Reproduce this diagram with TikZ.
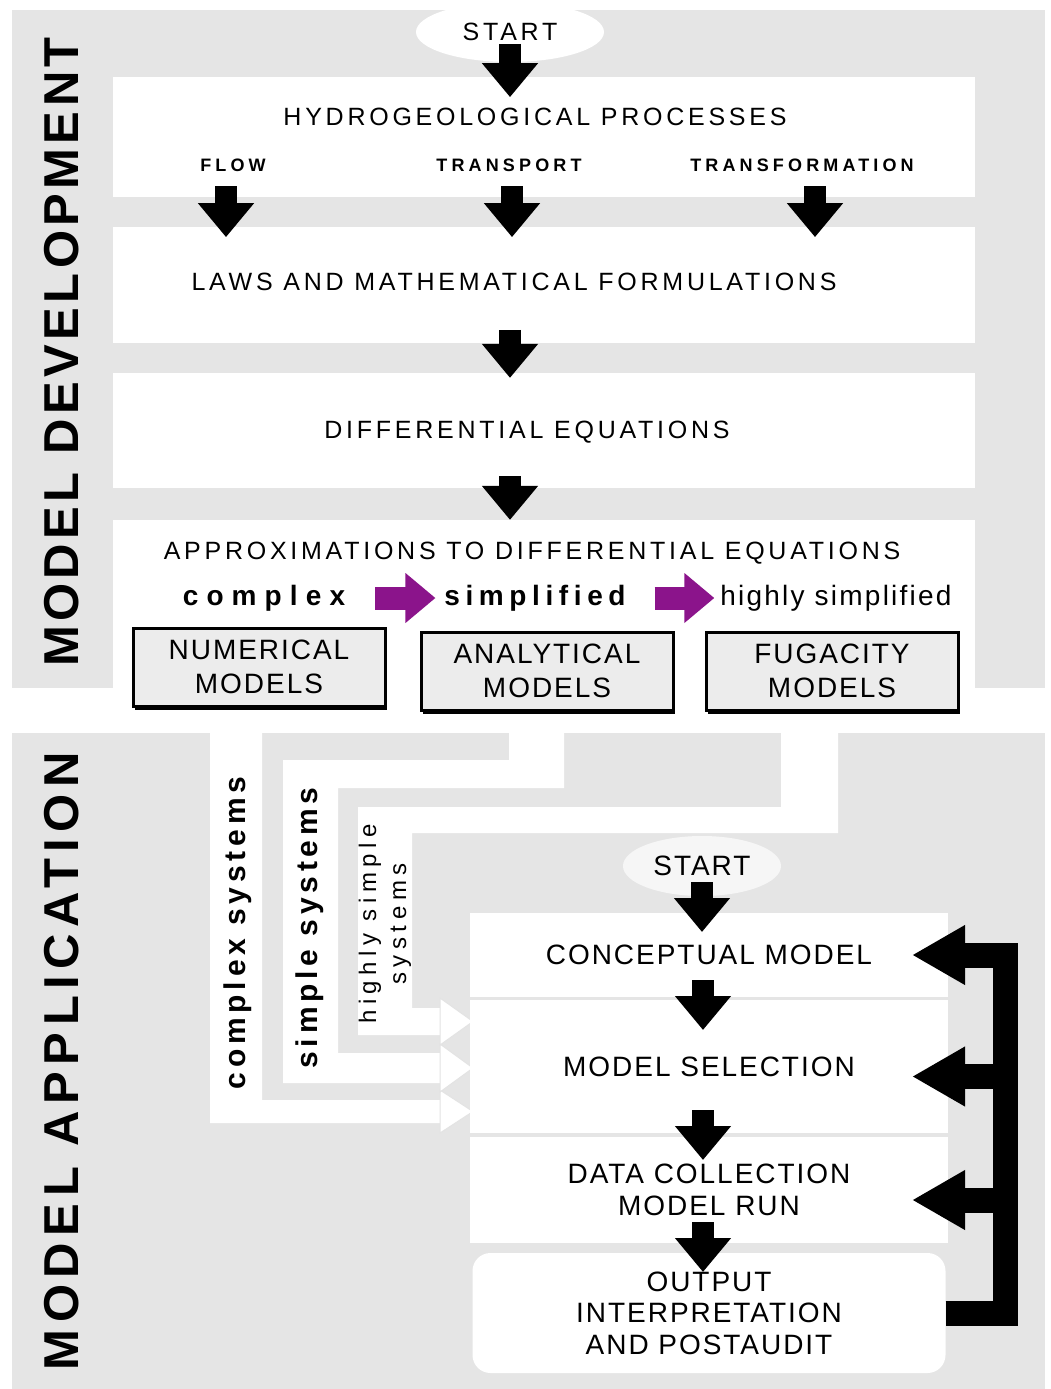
\documentclass[tikz,border=0pt]{standalone}
\usepackage{fontspec}
\setmainfont{Liberation Sans}
\usetikzlibrary{shapes.geometric, positioning, arrows.meta, shadows}

\definecolor{panelgrey}{RGB}{229,229,229}
\definecolor{boxgrey}{RGB}{236,236,236}
\definecolor{startgrey}{RGB}{246,246,246}
\definecolor{simpurple}{RGB}{139,20,139}

\newcommand{\topfont}{\fontsize{25}{30}\selectfont\addfontfeature{LetterSpace=15}}
\newcommand{\tagfont}{\fontsize{18}{20}\selectfont\bfseries\addfontfeature{LetterSpace=23}}
\newcommand{\boxfont}{\fontsize{28}{34}\selectfont\addfontfeature{LetterSpace=7}}
\newcommand{\flowfont}{\fontsize{28}{31.5}\selectfont\addfontfeature{LetterSpace=7}}
\newcommand{\titlefont}{\fontsize{49}{50}\selectfont\bfseries\addfontfeature{LetterSpace=9}}
\newcommand{\sysfont}{\fontsize{30}{32}\selectfont\bfseries\addfontfeature{LetterSpace=16}}
\newcommand{\hsysfont}{\fontsize{24}{30}\selectfont\addfontfeature{LetterSpace=23}}

\begin{document}
\begin{tikzpicture}[x=1pt, y=-1pt, inner sep=0pt, outer sep=0pt]
    % Define styles
    \tikzstyle{panel} = [fill=panelgrey]
    \tikzstyle{band} = [fill=white]
    \tikzstyle{channel} = [fill=white]
    \tikzstyle{channelhead} = [fill=white, draw=gray!22, line width=1pt]
    \tikzstyle{startnode} = [ellipse, minimum width=188pt, minimum height=60pt, font=\topfont]
    \tikzstyle{model} = [rectangle, draw, line width=3pt, fill=boxgrey, minimum width=252pt, minimum height=78pt, align=center, font=\boxfont, drop shadow={shadow xshift=2pt, shadow yshift=-4pt, fill=black, opacity=1}]
    \tikzstyle{flowband} = [rectangle, fill=white, minimum width=478pt, align=center, font=\flowfont]
    \tikzstyle{sidetitle} = [rotate=90, font=\titlefont]
    \tikzstyle{blockarrow} = [line width=22pt, -{Triangle[length=34pt, width=54pt]}]
    \tikzstyle{purplearrow} = [line width=23pt, simpurple, -{Triangle[length=30pt, width=48pt]}]
    \tikzstyle{feedback} = [line width=25pt, -{Triangle[length=53pt, width=56pt]}]

    \useasboundingbox (0,0) rectangle (1051,1389);

    % Panels and bands
    \fill[panel] (12,10) rectangle (1045,688);
    \fill[panel] (12,733) rectangle (1045,1389);
    \fill[band] (113,77) rectangle (975,197);
    \fill[band] (113,227) rectangle (975,343);
    \fill[band] (113,373) rectangle (975,488);
    \fill[band] (113,520) rectangle (975,688);

    % Channels from the models down to the application
    \fill[channel] (210,730) -- (262,730) -- (262,1100) -- (445,1100) -- (445,1123) -- (210,1123) -- cycle;
    \fill[channel] (509,730) -- (564,730) -- (564,788) -- (338,788) -- (338,1053) -- (445,1053) -- (445,1083) -- (283,1083) -- (283,760) -- (509,760) -- cycle;
    \fill[channel] (781,730) -- (838,730) -- (838,833) -- (412,833) -- (412,1008) -- (445,1008) -- (445,1035) -- (358,1035) -- (358,807) -- (781,807) -- cycle;
    \filldraw[channelhead] (440,1090) -- (473,1111.5) -- (440,1133) -- cycle;
    \filldraw[channelhead] (440,1044) -- (473,1068) -- (440,1092) -- cycle;
    \filldraw[channelhead] (440,998) -- (473,1021.5) -- (440,1045) -- cycle;

    % Nodes: model development
    \node[sidetitle] (mdev) at (62,352) {MODEL DEVELOPMENT};
    \node[startnode, fill=white] (topstart) at (510,32) {START};
    \node[font=\topfont] (hydro) at (535,117) {HYDROGEOLOGICAL PROCESSES};
    \node[font=\tagfont] (flow) at (233,165) {FLOW};
    \node[font=\tagfont] (transp) at (509,165) {TRANSPORT};
    \node[font=\tagfont] (transf) at (802,165) {TRANSFORMATION};
    \node[font=\topfont] (laws) at (514,282) {LAWS AND MATHEMATICAL FORMULATIONS};
    \node[font=\topfont] (diffeq) at (527,432) {DIFFERENTIAL EQUATIONS};
    \node[font=\topfont] (approx) at (532,553) {APPROXIMATIONS TO DIFFERENTIAL EQUATIONS};
    \node[font={\fontsize{28}{30}\selectfont\bfseries\addfontfeature{LetterSpace=29}}] (cplx) at (264,598) {complex};
    \node[font={\fontsize{28}{30}\selectfont\bfseries\addfontfeature{LetterSpace=20}}] (simp) at (535,598) {simplified};
    \node[font={\fontsize{28}{30}\selectfont\addfontfeature{LetterSpace=8}}] (hsimp) at (836,598) {highly simplified};
    \node[model] (num) at (259,667) {NUMERICAL\\MODELS};
    \node[model] (ana) at (547,671) {ANALYTICAL\\MODELS};
    \node[model] (fug) at (832,671) {FUGACITY\\MODELS};

    % Nodes: model application
    \node[sidetitle, font=\titlefont\addfontfeature{LetterSpace=13.5}] (mapp) at (62,1061) {MODEL APPLICATION};
    \node[rotate=90, font=\sysfont] (csys) at (238,933) {complex systems};
    \node[rotate=90, font=\sysfont] (ssys) at (310,928) {simple systems};
    \node[rotate=90, font=\hsysfont, align=center] (hsys) at (385,924) {highly simple\\systems};
    \node[startnode, fill=startgrey, minimum width=158pt, font=\flowfont] (bstart) at (702,866) {START};
    \node[flowband, minimum height=84pt] (bandA) at (709,955) {CONCEPTUAL MODEL};
    \node[flowband, minimum height=133pt, below=3pt of bandA] (bandB) {MODEL SELECTION};
    \node[flowband, minimum height=106pt, below=4pt of bandB] (bandC) {DATA COLLECTION\\MODEL RUN};
    \node[flowband, minimum height=120pt, minimum width=473pt, rounded corners=18pt, below=10pt of bandC] (bandD) {OUTPUT\\INTERPRETATION\\AND POSTAUDIT};
    \coordinate (fbbar) at (1005,1313);
    \coordinate (selin) at ([yshift=-10pt]bandB.east);
    \coordinate (datin) at ([yshift=-10pt]bandC.east);

    % Connections
    \draw[blockarrow] ([yshift=18pt]topstart.south) -- ([yshift=11pt]topstart.south |- hydro.north);
    \draw[blockarrow, shorten <=15pt, shorten >=36pt] ([xshift=-7pt]flow.south) -- ([xshift=-7pt]flow.south |- laws.north);
    \draw[blockarrow, shorten <=15pt, shorten >=36pt] ([xshift=3pt]transp.south) -- ([xshift=3pt]transp.south |- laws.north);
    \draw[blockarrow, shorten <=15pt, shorten >=36pt] ([xshift=13pt]transf.south) -- ([xshift=13pt]transf.south |- laws.north);
    \draw[blockarrow, shorten <=39pt, shorten >=43pt] ([xshift=-4pt]laws.south) -- ([xshift=-4pt]laws.south |- diffeq.north);
    \draw[blockarrow, shorten <=33pt, shorten >=22pt] ([xshift=-17pt]diffeq.south) -- ([xshift=-17pt]diffeq.south |- approx.north);
    \draw[purplearrow, shorten <=30pt, shorten >=9pt] (cplx.east) -- (cplx.east -| simp.west);
    \draw[purplearrow, shorten <=29pt, shorten >=6pt] (simp.east) -- (simp.east -| hsimp.west);

    \draw[blockarrow] ([yshift=14pt]bstart.south) -- ([yshift=-19pt]bstart.south |- bandA.north);
    \draw[blockarrow] ([xshift=-6pt, yshift=17pt]bandA.south) -- ([xshift=-6pt, yshift=-30pt]bandB.north);
    \draw[blockarrow] ([xshift=-6pt, yshift=23pt]bandB.south) -- ([xshift=-6pt, yshift=-23pt]bandC.north);
    \draw[blockarrow] ([xshift=-6pt, yshift=21pt]bandC.south) -- ([xshift=-6pt, yshift=-19pt]bandD.north);

    \draw[feedback] (bandD.east) -- (fbbar) |- ([xshift=-36pt]bandA.east);
    \draw[feedback] (fbbar |- selin) -- ([xshift=-36pt]selin);
    \draw[feedback] (fbbar |- datin) -- ([xshift=-36pt]datin);
\end{tikzpicture}
\end{document}
